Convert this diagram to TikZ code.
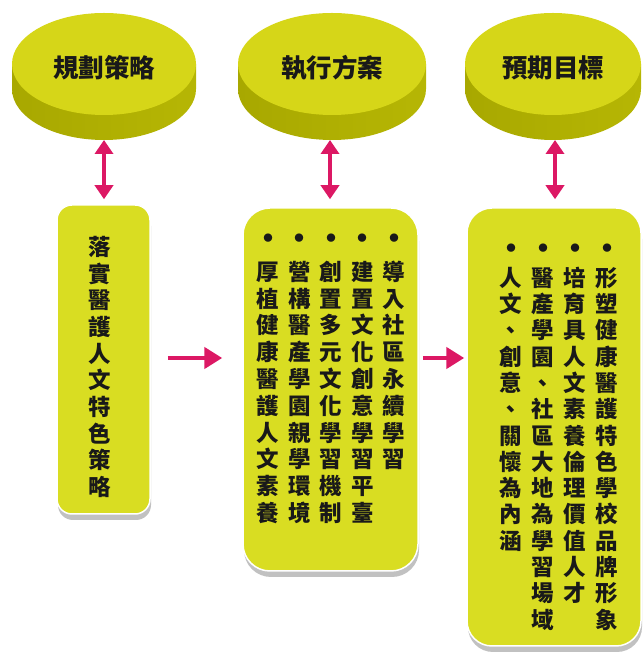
\documentclass[tikz,border=0pt]{standalone}
\usepackage{fontspec}
\newfontfamily\cjk{Noto Sans CJK TC}
\usetikzlibrary{arrows.meta,shadows}
\definecolor{boxyellow}{RGB}{217,221,34}
\definecolor{disktopc}{RGB}{214,214,24}
\definecolor{disksideL}{RGB}{168,168,0}
\definecolor{disksideM}{RGB}{196,196,14}
\definecolor{disksideR}{RGB}{182,182,4}
\definecolor{pinkc}{RGB}{220,24,100}
\newcommand\vchars[1]{\vcharsA#1\relax}
\def\vcharsA#1{\ifx\relax#1\else\hbox to 1em{\hss#1\hss}\expandafter\vcharsA\fi}
\newcommand\bul{\hbox to 1em{\hss{\fontsize{30}{30}\selectfont•}\hss}}
\newcommand\drawdisk[2]{%
  \shade[left color=disksideL,middle color=disksideM,right color=disksideR]
    (#1-#2,589) -- (#1-#2,564) arc[start angle=180,end angle=360,x radius=#2pt,y radius=51pt] -- (#1+#2,589) -- cycle;
  \fill[disktopc] (#1,589) ellipse[x radius=#2pt,y radius=51pt];}
\begin{document}
\begin{tikzpicture}[x=1pt,y=1pt,
  disktitle/.style={font=\cjk\bfseries\fontsize{25.5}{25.5}\selectfont,inner sep=0pt,text=black!90},
  stepbox/.style={draw=white,line width=1.5pt,fill=boxyellow,inner sep=0pt,
     drop shadow={shadow xshift=1pt,shadow yshift=-6pt,opacity=0.35,fill=black!70}},
  col/.style={font=\cjk\bfseries\fontsize{22.5}{22.5}\selectfont,inner sep=0pt,anchor=base,text=black!90},
  dbl/.style={pinkc,line width=3.5pt,{Triangle[width=18pt,length=14pt]}-{Triangle[width=18pt,length=14pt]}},
  harrow/.style={pinkc,line width=4.5pt,-{Triangle[width=21pt,length=18pt]}}]
\useasboundingbox (0,0) rectangle (643,653);
% disks
\drawdisk{104}{92}
\drawdisk{332}{94}
\drawdisk{553}{88}
\node[disktitle] (d1) at (104,585) {規劃策略};
\node[disktitle] (d2) at (332,585) {執行方案};
\node[disktitle] (d3) at (553,585) {預期目標};
\coordinate (d1bot) at (104,513);
\coordinate (d2bot) at (330,513);
\coordinate (d3bot) at (555,513);
% boxes
\node[stepbox,rounded corners=15pt,minimum width=93pt,minimum height=309pt] (b1) at (103.5,293.5) {};
\node[stepbox,rounded corners=27pt,minimum width=175pt,minimum height=363pt] (b2) at (330.5,263.5) {};
\node[stepbox,rounded corners=25pt,minimum width=174pt,minimum height=438pt] (b3) at (554,226) {};
% box 1 text
\node[col] (c11) at (100,397.6) {\vtop{\baselineskip=26.7pt \vchars{落實醫護人文特色策略}}};
% box 2 text
\node[col] (c21) at (394,403) {\vtop{\baselineskip=26.8pt \bul\vskip3.6pt \vchars{導入社區永續學習}}};
\node[col] (c22) at (362.5,403) {\vtop{\baselineskip=26.8pt \bul\vskip3.6pt \vchars{建置文化創意學習平臺}}};
\node[col] (c23) at (331,403) {\vtop{\baselineskip=26.8pt \bul\vskip3.6pt \vchars{創置多元文化學習機制}}};
\node[col] (c24) at (299.5,403) {\vtop{\baselineskip=26.8pt \bul\vskip3.6pt \vchars{營構醫產學園親學環境}}};
\node[col] (c25) at (268,403) {\vtop{\baselineskip=26.8pt \bul\vskip3.6pt \vchars{厚植健康醫護人文素養}}};
% box 3 text
\node[col] (c31) at (607,393) {\vtop{\baselineskip=26.3pt \bul\vchars{形塑健康醫護特色學校品牌形象}}};
\node[col] (c32) at (575,393) {\vtop{\baselineskip=26.3pt \bul\vchars{培育具人文素養倫理價值人才}}};
\node[col] (c33) at (543,393) {\vtop{\baselineskip=26.3pt \bul\vchars{醫產學園、社區大地為學習場域}}};
\node[col] (c34) at (511,393) {\vtop{\baselineskip=26.3pt \bul\vchars{人文、創意、關懷為內涵}}};
% connectors
\draw[dbl,shorten >=5pt] (d1bot) -- (d1bot |- b1.north);
\draw[dbl,shorten >=8pt] (d2bot) -- (d2bot |- b2.north);
\draw[dbl,shorten >=8pt] (d3bot) -- (d3bot |- b3.north);
\draw[harrow,shorten <=17pt,shorten >=20pt] ([yshift=1.5pt]b1.east) -- ([yshift=1.5pt]b1.east -| b2.west);
\draw[harrow,shorten <=4pt,shorten >=2pt] ([yshift=1.5pt]b2.east |- b1.east) -- ([yshift=1.5pt]b3.west |- b1.east);
\end{tikzpicture}
\end{document}
